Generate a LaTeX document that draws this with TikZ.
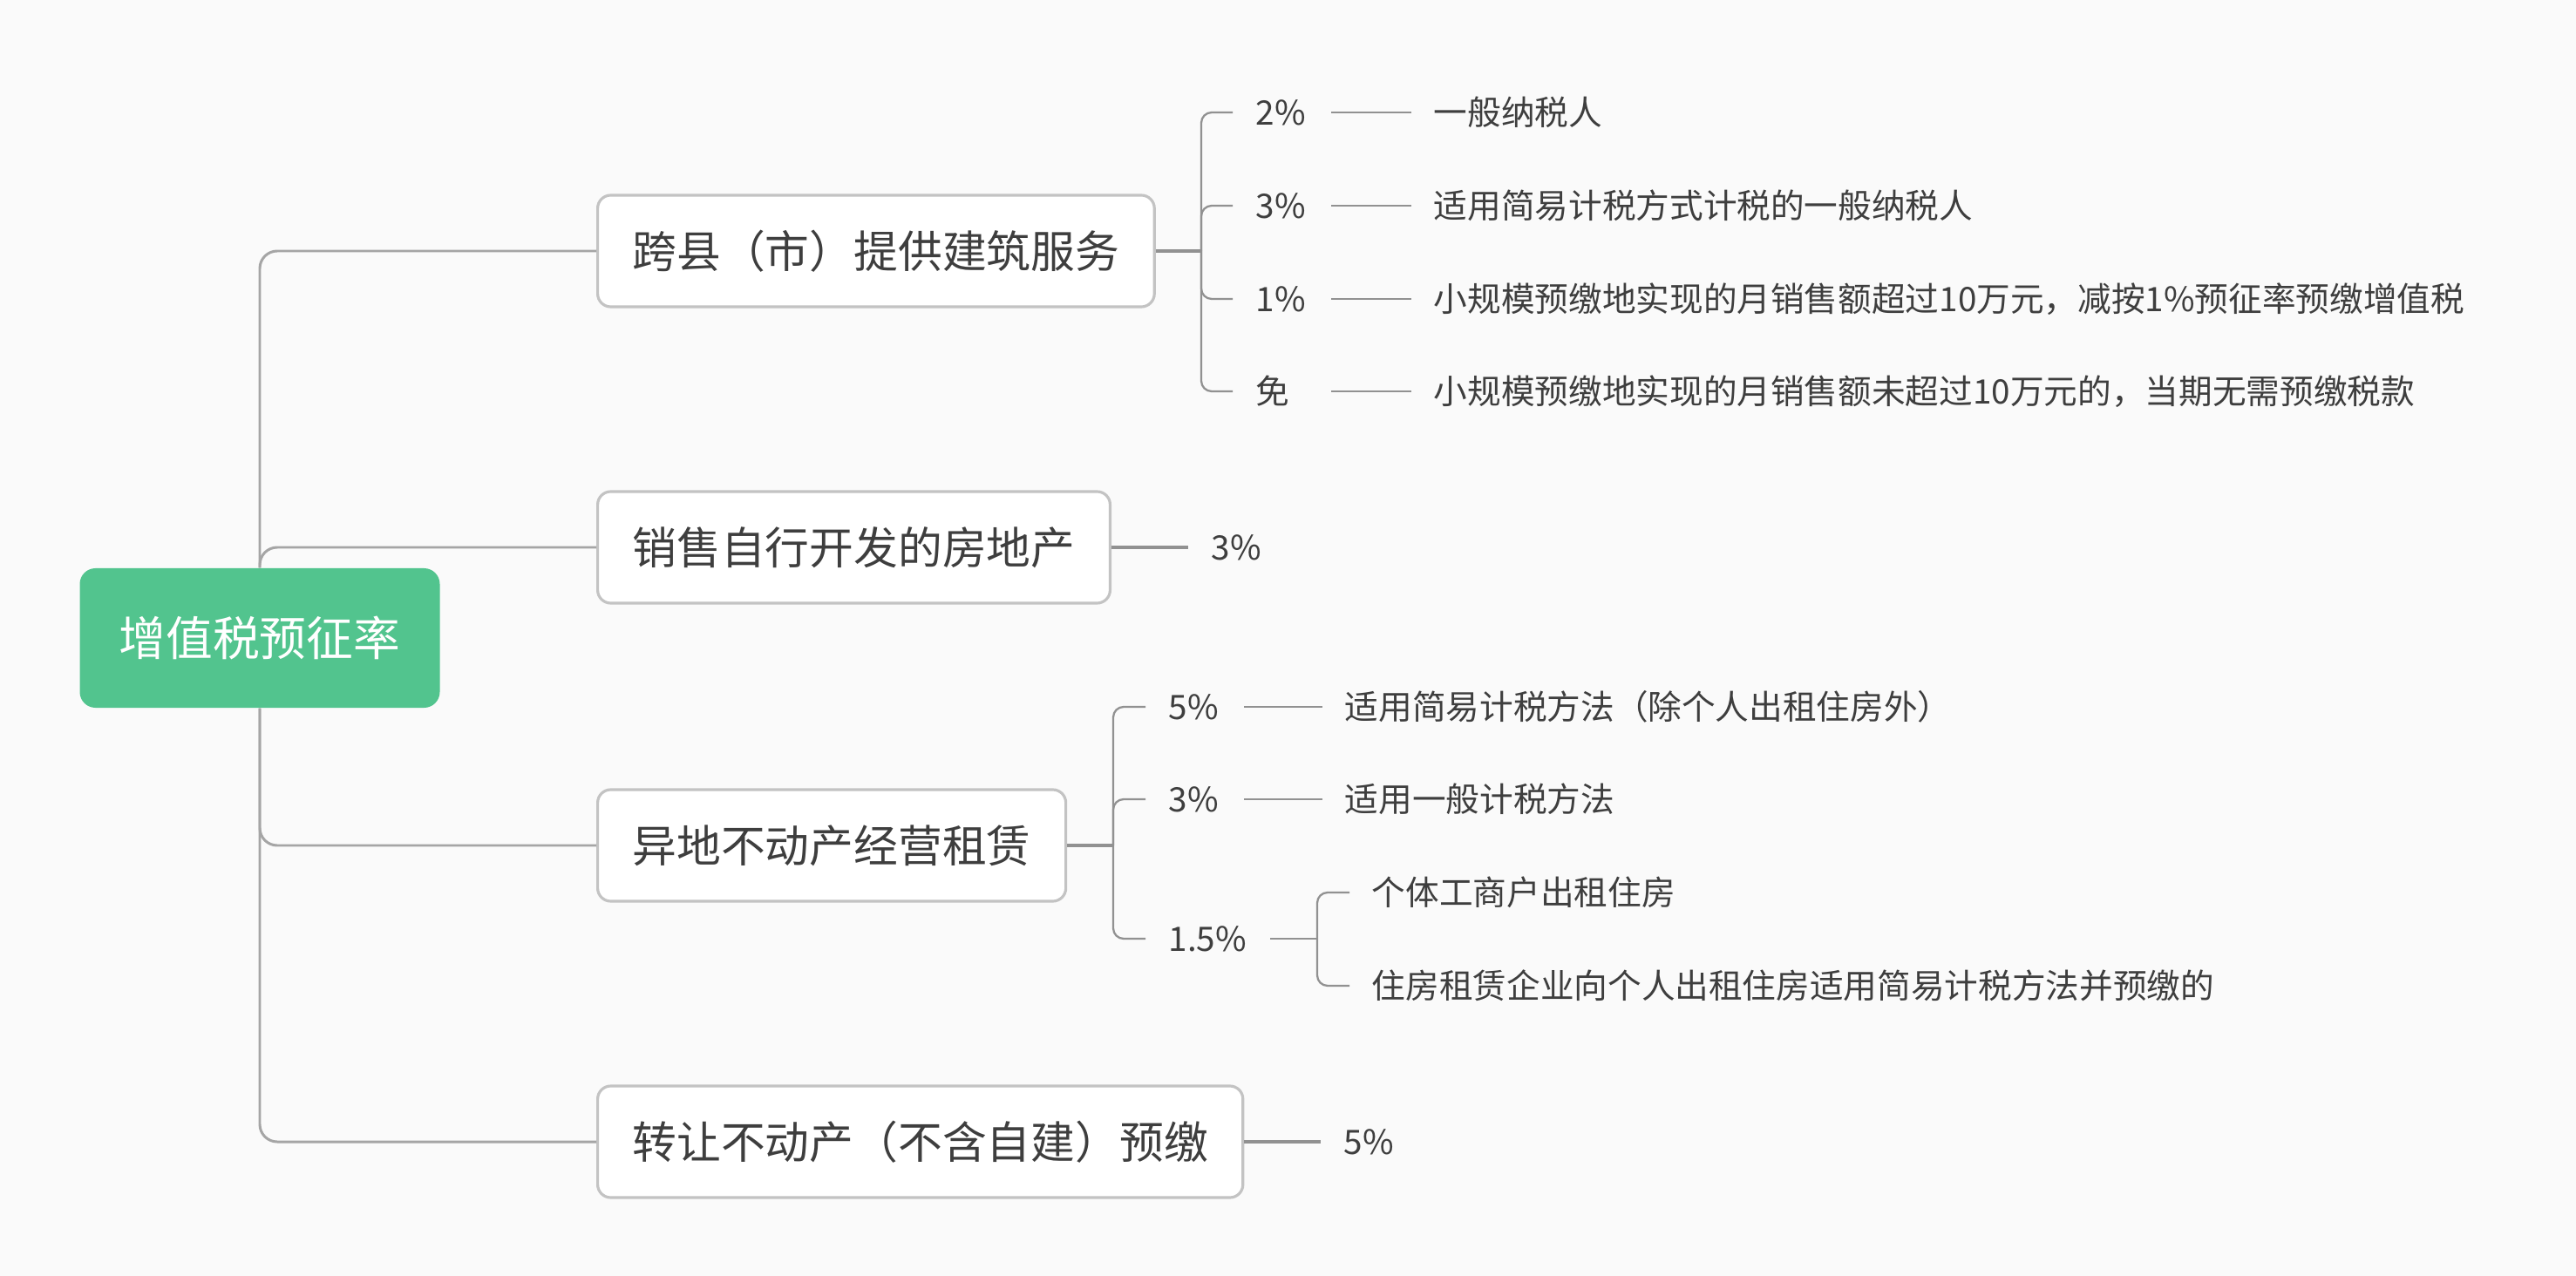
\documentclass[tikz,border=0pt]{standalone}
\usepackage{fontspec}
\setmainfont{Noto Sans CJK SC}
\usepackage{tikz}
\usepackage{xcolor}

\definecolor{bggray}{RGB}{250,250,250}
\definecolor{rootgreen}{RGB}{82,196,142}
\definecolor{boxline}{RGB}{195,195,195}
\definecolor{linkgray}{RGB}{165,165,165}
\definecolor{tickgray}{RGB}{145,145,145}
\definecolor{txtgray}{RGB}{62,62,62}

\begin{document}
\begin{tikzpicture}[
    rootbox/.style={fill=rootgreen, rounded corners=0.18cm, text=white, inner sep=0pt,
        minimum width=4.13cm, minimum height=1.6cm, font=\fontsize{15.3pt}{18pt}\selectfont},
    branch/.style={anchor=west, draw=boxline, line width=0.9pt, fill=white, rounded corners=0.15cm,
        text=txtgray, inner xsep=0.4cm, inner ysep=0pt, minimum height=1.28cm,
        font=\fontsize{14.45pt}{17pt}\selectfont},
    rate/.style={anchor=west, text=txtgray, inner xsep=0.26cm, inner ysep=0.05cm,
        text width=#1, align=left, font=\fontsize{11pt}{13pt}\selectfont},
    rate/.default=0.6cm,
    leaf/.style={anchor=west, text=txtgray, inner xsep=0.25cm, font=\fontsize{11pt}{13pt}\selectfont},
    trunk/.style={draw=linkgray, line width=0.85pt, rounded corners=0.2cm},
    stub/.style={draw=tickgray, line width=0.95pt},
    tick/.style={draw=tickgray, line width=0.65pt, rounded corners=0.12cm}
]
    % Background
    \fill[bggray] (0,0) rectangle (29.55,-14.64);

    % Root
    \node[rootbox] (root) at (2.98,-7.32) {增值税预征率};

    % Branches
    \node[branch] (b1) at (6.84,-2.88) {跨县（市）提供建筑服务};
    \node[branch] (b2) at (6.84,-6.28) {销售自行开发的房地产};
    \node[branch] (b3) at (6.84,-9.70) {异地不动产经营租赁};
    \node[branch] (b4) at (6.84,-13.10) {转让不动产（不含自建）预缴};

    \draw[trunk] (root.north) |- (b1.west);
    \draw[trunk] (root.north) |- (b2.west);
    \draw[trunk] (root.south) |- (b3.west);
    \draw[trunk] (root.south) |- (b4.west);

    % Branch 1
    \coordinate (j1) at (13.78,-2.88);
    \node[rate] (r11) at (14.14,-1.29) {2\%};
    \node[rate] (r12) at (14.14,-2.36) {3\%};
    \node[rate] (r13) at (14.14,-3.43) {1\%};
    \node[rate] (r14) at (14.14,-4.49) {免};
    \node[leaf] (l11) at (16.19,-1.29) {一般纳税人};
    \node[leaf] (l12) at (16.19,-2.36) {适用简易计税方式计税的一般纳税人};
    \node[leaf] (l13) at (16.19,-3.43) {小规模预缴地实现的月销售额超过10万元，减按1\%预征率预缴增值税};
    \node[leaf] (l14) at (16.19,-4.49) {小规模预缴地实现的月销售额未超过10万元的，当期无需预缴税款};

    \draw[stub] (b1.east) -- (j1);
    \foreach \k in {1,2,3,4} {
        \draw[tick] (j1) |- (r1\k.west);
        \draw[tick] (r1\k.east) -- (l1\k.west);
    }

    % Branch 2
    \node[rate] (r21) at (13.63,-6.28) {3\%};
    \draw[stub] (b2.east) -- (r21.west);

    % Branch 3
    \coordinate (j3) at (12.77,-9.70);
    \node[rate] (r31) at (13.14,-8.11) {5\%};
    \node[rate] (r32) at (13.14,-9.17) {3\%};
    \node[rate=0.9cm] (r33) at (13.14,-10.77) {1.5\%};
    \node[leaf] (l31) at (15.17,-8.11) {适用简易计税方法（除个人出租住房外）};
    \node[leaf] (l32) at (15.17,-9.17) {适用一般计税方法};

    \draw[stub] (b3.east) -- (j3);
    \foreach \k in {1,2,3} \draw[tick] (j3) |- (r3\k.west);
    \draw[tick] (r31.east) -- (l31.west);
    \draw[tick] (r32.east) -- (l32.west);

    % 1.5% sub-items
    \coordinate (j33) at (15.11,-10.77);
    \node[leaf] (l331) at (15.48,-10.24) {个体工商户出租住房};
    \node[leaf] (l332) at (15.48,-11.31) {住房租赁企业向个人出租住房适用简易计税方法并预缴的};
    \draw[tick] (r33.east) -- (j33);
    \draw[tick] (j33) |- (l331.west);
    \draw[tick] (j33) |- (l332.west);

    % Branch 4
    \node[rate] (r41) at (15.15,-13.10) {5\%};
    \draw[stub] (b4.east) -- (r41.west);
\end{tikzpicture}
\end{document}
